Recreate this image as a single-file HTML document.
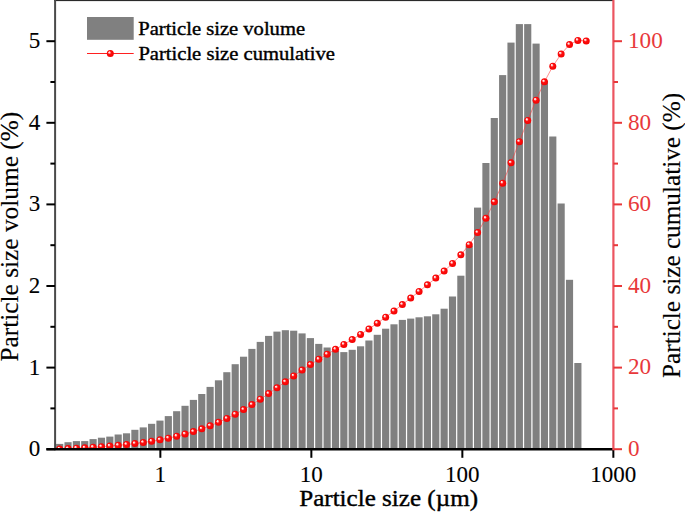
<!DOCTYPE html>
<html><head><meta charset="utf-8"><style>
html,body{margin:0;padding:0;background:#fff;}
svg{display:block;}
text{font-family:"Liberation Serif",serif;stroke:#000;stroke-width:0.4px;}
.rl text{stroke:none;}
.tl text{stroke-width:0.1px;}
</style></head><body>
<svg width="685" height="512" viewBox="0 0 685 512">
<defs>
<radialGradient id="g" cx="0.5" cy="0.5" r="0.55" fx="0.32" fy="0.3">
<stop offset="0" stop-color="#ffffff"/>
<stop offset="0.18" stop-color="#ffd0d0"/>
<stop offset="0.42" stop-color="#ff1010"/>
<stop offset="1" stop-color="#f00000"/>
</radialGradient>
<circle id="d" cx="0" cy="0" r="3.5" fill="url(#g)"/>
<clipPath id="pc"><rect x="55" y="0" width="558.5" height="449.20"/></clipPath>
</defs>
<rect width="685" height="512" fill="#fff"/>
<g clip-path="url(#pc)"><g fill="#808080"><rect x="56.10" y="443.90" width="7.15" height="5.30"/><rect x="64.46" y="442.20" width="7.15" height="7.00"/><rect x="72.82" y="441.10" width="7.15" height="8.10"/><rect x="81.17" y="441.10" width="7.15" height="8.10"/><rect x="89.53" y="439.10" width="7.15" height="10.10"/><rect x="97.89" y="437.70" width="7.15" height="11.50"/><rect x="106.25" y="436.60" width="7.15" height="12.60"/><rect x="114.61" y="434.50" width="7.15" height="14.70"/><rect x="122.96" y="433.30" width="7.15" height="15.90"/><rect x="131.32" y="429.80" width="7.15" height="19.40"/><rect x="139.68" y="427.40" width="7.15" height="21.80"/><rect x="148.04" y="423.80" width="7.15" height="25.40"/><rect x="156.40" y="420.60" width="7.15" height="28.60"/><rect x="164.75" y="416.10" width="7.15" height="33.10"/><rect x="173.11" y="411.20" width="7.15" height="38.00"/><rect x="181.47" y="405.80" width="7.15" height="43.40"/><rect x="189.83" y="399.90" width="7.15" height="49.30"/><rect x="198.19" y="394.00" width="7.15" height="55.20"/><rect x="206.54" y="386.90" width="7.15" height="62.30"/><rect x="214.90" y="380.30" width="7.15" height="68.90"/><rect x="223.26" y="372.20" width="7.15" height="77.00"/><rect x="231.62" y="364.20" width="7.15" height="85.00"/><rect x="239.98" y="356.70" width="7.15" height="92.50"/><rect x="248.33" y="348.90" width="7.15" height="100.30"/><rect x="256.69" y="341.90" width="7.15" height="107.30"/><rect x="265.05" y="335.90" width="7.15" height="113.30"/><rect x="273.41" y="331.60" width="7.15" height="117.60"/><rect x="281.77" y="330.20" width="7.15" height="119.00"/><rect x="290.12" y="330.70" width="7.15" height="118.50"/><rect x="298.48" y="333.40" width="7.15" height="115.80"/><rect x="306.84" y="338.10" width="7.15" height="111.10"/><rect x="315.20" y="343.90" width="7.15" height="105.30"/><rect x="323.56" y="347.50" width="7.15" height="101.70"/><rect x="331.91" y="350.50" width="7.15" height="98.70"/><rect x="340.27" y="352.10" width="7.15" height="97.10"/><rect x="348.63" y="349.80" width="7.15" height="99.40"/><rect x="356.99" y="346.30" width="7.15" height="102.90"/><rect x="365.35" y="340.50" width="7.15" height="108.70"/><rect x="373.70" y="334.80" width="7.15" height="114.40"/><rect x="382.06" y="328.70" width="7.15" height="120.50"/><rect x="390.42" y="324.30" width="7.15" height="124.90"/><rect x="398.78" y="319.90" width="7.15" height="129.30"/><rect x="407.14" y="318.60" width="7.15" height="130.60"/><rect x="415.49" y="317.30" width="7.15" height="131.90"/><rect x="423.85" y="316.30" width="7.15" height="132.90"/><rect x="432.21" y="314.30" width="7.15" height="134.90"/><rect x="440.57" y="308.70" width="7.15" height="140.50"/><rect x="448.93" y="296.50" width="7.15" height="152.70"/><rect x="457.28" y="275.70" width="7.15" height="173.50"/><rect x="465.64" y="245.70" width="7.15" height="203.50"/><rect x="474.00" y="207.60" width="7.15" height="241.60"/><rect x="482.36" y="163.00" width="7.15" height="286.20"/><rect x="490.72" y="118.00" width="7.15" height="331.20"/><rect x="499.07" y="75.10" width="7.15" height="374.10"/><rect x="507.43" y="42.60" width="7.15" height="406.60"/><rect x="515.79" y="24.10" width="7.15" height="425.10"/><rect x="524.15" y="24.10" width="7.15" height="425.10"/><rect x="532.51" y="43.60" width="7.15" height="405.60"/><rect x="540.86" y="81.00" width="7.15" height="368.20"/><rect x="549.22" y="136.50" width="7.15" height="312.70"/><rect x="557.58" y="203.50" width="7.15" height="245.70"/><rect x="565.94" y="279.80" width="7.15" height="169.40"/><rect x="574.30" y="363.00" width="7.15" height="86.20"/></g>
<path d="M59.68,448.94 L68.03,448.59 L76.39,448.18 L84.75,447.78 L93.11,447.27 L101.47,446.70 L109.82,446.07 L118.18,445.34 L126.54,444.54 L134.90,443.58 L143.25,442.49 L151.61,441.22 L159.97,439.79 L168.33,438.14 L176.69,436.25 L185.04,434.08 L193.40,431.62 L201.76,428.87 L210.12,425.76 L218.48,422.32 L226.84,418.48 L235.19,414.24 L243.55,409.62 L251.91,404.62 L260.27,399.27 L268.62,393.61 L276.98,387.74 L285.34,381.81 L293.70,375.89 L302.06,370.12 L310.42,364.57 L318.77,359.32 L327.13,354.25 L335.49,349.32 L343.85,344.48 L352.21,339.52 L360.56,334.38 L368.92,328.96 L377.28,323.25 L385.64,317.24 L394.00,311.01 L402.35,304.55 L410.71,298.04 L419.07,291.46 L427.43,284.83 L435.79,278.10 L444.14,271.09 L452.50,263.47 L460.86,254.81 L469.22,244.66 L477.58,232.60 L485.93,218.32 L494.29,201.80 L502.65,183.13 L511.01,162.84 L519.37,141.63 L527.72,120.42 L536.08,100.19 L544.44,81.81 L552.80,66.21 L561.16,53.95 L569.51,44.60 L577.87,40.40 L586.23,40.90" fill="none" stroke="#ff3030" stroke-width="0.9" stroke-opacity="0.6"/>
<use href="#d" x="59.68" y="448.94"/><use href="#d" x="68.03" y="448.59"/><use href="#d" x="76.39" y="448.18"/><use href="#d" x="84.75" y="447.78"/><use href="#d" x="93.11" y="447.27"/><use href="#d" x="101.47" y="446.70"/><use href="#d" x="109.82" y="446.07"/><use href="#d" x="118.18" y="445.34"/><use href="#d" x="126.54" y="444.54"/><use href="#d" x="134.90" y="443.58"/><use href="#d" x="143.25" y="442.49"/><use href="#d" x="151.61" y="441.22"/><use href="#d" x="159.97" y="439.79"/><use href="#d" x="168.33" y="438.14"/><use href="#d" x="176.69" y="436.25"/><use href="#d" x="185.04" y="434.08"/><use href="#d" x="193.40" y="431.62"/><use href="#d" x="201.76" y="428.87"/><use href="#d" x="210.12" y="425.76"/><use href="#d" x="218.48" y="422.32"/><use href="#d" x="226.84" y="418.48"/><use href="#d" x="235.19" y="414.24"/><use href="#d" x="243.55" y="409.62"/><use href="#d" x="251.91" y="404.62"/><use href="#d" x="260.27" y="399.27"/><use href="#d" x="268.62" y="393.61"/><use href="#d" x="276.98" y="387.74"/><use href="#d" x="285.34" y="381.81"/><use href="#d" x="293.70" y="375.89"/><use href="#d" x="302.06" y="370.12"/><use href="#d" x="310.42" y="364.57"/><use href="#d" x="318.77" y="359.32"/><use href="#d" x="327.13" y="354.25"/><use href="#d" x="335.49" y="349.32"/><use href="#d" x="343.85" y="344.48"/><use href="#d" x="352.21" y="339.52"/><use href="#d" x="360.56" y="334.38"/><use href="#d" x="368.92" y="328.96"/><use href="#d" x="377.28" y="323.25"/><use href="#d" x="385.64" y="317.24"/><use href="#d" x="394.00" y="311.01"/><use href="#d" x="402.35" y="304.55"/><use href="#d" x="410.71" y="298.04"/><use href="#d" x="419.07" y="291.46"/><use href="#d" x="427.43" y="284.83"/><use href="#d" x="435.79" y="278.10"/><use href="#d" x="444.14" y="271.09"/><use href="#d" x="452.50" y="263.47"/><use href="#d" x="460.86" y="254.81"/><use href="#d" x="469.22" y="244.66"/><use href="#d" x="477.58" y="232.60"/><use href="#d" x="485.93" y="218.32"/><use href="#d" x="494.29" y="201.80"/><use href="#d" x="502.65" y="183.13"/><use href="#d" x="511.01" y="162.84"/><use href="#d" x="519.37" y="141.63"/><use href="#d" x="527.72" y="120.42"/><use href="#d" x="536.08" y="100.19"/><use href="#d" x="544.44" y="81.81"/><use href="#d" x="552.80" y="66.21"/><use href="#d" x="561.16" y="53.95"/><use href="#d" x="569.51" y="44.60"/><use href="#d" x="577.87" y="40.40"/><use href="#d" x="586.23" y="40.90"/></g>
<g stroke="#000" stroke-width="2">
<rect x="54" y="0" width="559.5" height="1.1" fill="#2a2a2a" stroke="none"/>
<line x1="55.1" y1="0" x2="55.1" y2="450.2" stroke="#4a4a4a"/>
<line x1="46.4" y1="449.25" x2="613.5" y2="449.25" stroke-width="2.4"/>
<line x1="46.4" y1="449.20" x2="55" y2="449.20"/><line x1="46.4" y1="367.60" x2="55" y2="367.60"/><line x1="46.4" y1="286.00" x2="55" y2="286.00"/><line x1="46.4" y1="204.40" x2="55" y2="204.40"/><line x1="46.4" y1="122.80" x2="55" y2="122.80"/><line x1="46.4" y1="41.20" x2="55" y2="41.20"/><line x1="50.4" y1="408.40" x2="55" y2="408.40"/><line x1="50.4" y1="326.80" x2="55" y2="326.80"/><line x1="50.4" y1="245.20" x2="55" y2="245.20"/><line x1="50.4" y1="163.60" x2="55" y2="163.60"/><line x1="50.4" y1="82.00" x2="55" y2="82.00"/><line x1="160.35" y1="449" x2="160.35" y2="457.8"/><line x1="311.35" y1="449" x2="311.35" y2="457.8"/><line x1="462.35" y1="449" x2="462.35" y2="457.8"/><line x1="613.35" y1="449" x2="613.35" y2="457.8"/>
</g>
<g font-size="23" fill="#000" class="tl"><text x="40.2" y="456.20" text-anchor="end">0</text><text x="40.2" y="374.60" text-anchor="end">1</text><text x="40.2" y="293.00" text-anchor="end">2</text><text x="40.2" y="211.40" text-anchor="end">3</text><text x="40.2" y="129.80" text-anchor="end">4</text><text x="40.2" y="48.20" text-anchor="end">5</text><text x="160.35" y="482" text-anchor="middle">1</text><text x="311.35" y="482" text-anchor="middle">10</text><text x="462.35" y="482" text-anchor="middle">100</text><text x="613.35" y="482" text-anchor="middle">1000</text></g>
<line x1="613.4" y1="0" x2="613.4" y2="450.2" stroke="#ec5560" stroke-width="2.2"/><g stroke="#e8383a" stroke-width="2"><line x1="613.5" y1="449.20" x2="622" y2="449.20"/><line x1="613.5" y1="367.60" x2="622" y2="367.60"/><line x1="613.5" y1="286.00" x2="622" y2="286.00"/><line x1="613.5" y1="204.40" x2="622" y2="204.40"/><line x1="613.5" y1="122.80" x2="622" y2="122.80"/><line x1="613.5" y1="41.20" x2="622" y2="41.20"/><line x1="613.5" y1="408.40" x2="618" y2="408.40"/><line x1="613.5" y1="326.80" x2="618" y2="326.80"/><line x1="613.5" y1="245.20" x2="618" y2="245.20"/><line x1="613.5" y1="163.60" x2="618" y2="163.60"/><line x1="613.5" y1="82.00" x2="618" y2="82.00"/></g>
<g font-size="23.2" fill="#e8383a" class="rl"><text x="628.0" y="456.00">0</text><text x="628.0" y="374.40">20</text><text x="628.0" y="292.80">40</text><text x="628.0" y="211.20">60</text><text x="628.0" y="129.60">80</text><text x="628.0" y="48.00">100</text></g>
<rect x="87" y="17" width="46.7" height="22.8" fill="#808080"/>
<line x1="87" y1="53.5" x2="133.7" y2="53.5" stroke="#ff2020" stroke-width="1"/>
<use href="#d" x="110.3" y="53.5"/>
<text transform="translate(138.2,35.3) scale(1.0638,1)" font-size="19.36">Particle size volume</text>
<text transform="translate(138.4,60.3) scale(1.0638,1)" font-size="19.36">Particle size cumulative</text>
<text transform="translate(299.2,506.3) scale(1.0638,1)" font-size="23.59">Particle size (µm)</text>
<text transform="translate(18.3,361.6) rotate(-90) scale(1,0.97)" font-size="25.35" style="stroke-width:0.15px">Particle size volume (%)</text>
<text transform="translate(679.9,378.0) rotate(-90) scale(1,0.97)" font-size="25.25" style="stroke-width:0.15px">Particle size cumulative (%)</text>
</svg>
</body></html>
